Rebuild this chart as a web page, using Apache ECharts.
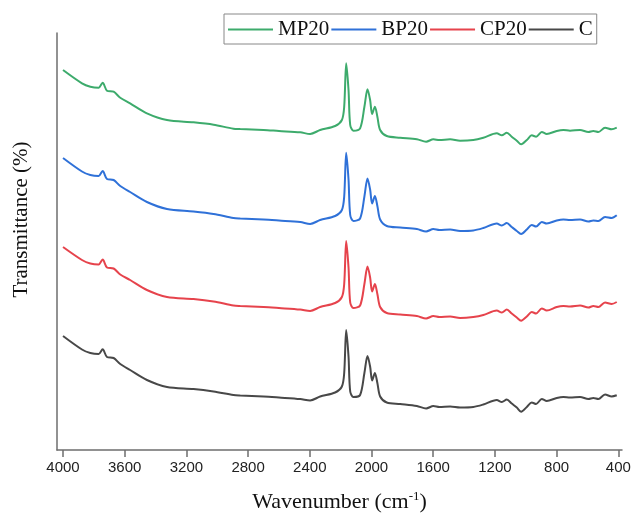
<!DOCTYPE html>
<html>
<head>
<meta charset="utf-8">
<script src="https://cdn.jsdelivr.net/npm/echarts@6/dist/echarts.min.js"></script>
<style>html,body{margin:0;padding:0;background:#fff;}#c{width:631px;height:517px;}</style>
</head>
<body>
<div id="c"></div>
<script>
var wavenumbers = [4000,3877,3823,3769,3743,3715,3672,3629,3565,3456,3326,3154,3024,2895,2851,2700,2600,2462,2398,2333,2236,2192,2177,2164,2149,2138,2117,2074,2046,2026,2009,1996,1978,1962,1944,1901,1814,1706,1646,1599,1560,1490,1426,1340,1275,1188,1155,1123,1091,1058,1030,993,961,933,896,864,799,756,713,648,594,562,529,486,443,410];
var mp20 = [380,366.7,363.3,362.3,367.3,359.3,358.3,352.3,346.7,336.7,330,327.7,325.3,321.3,321,320,319,317.7,316,320,324,330,343.3,386.7,360,325,319.3,321.7,343.3,360.7,350,336,343.3,333.3,320,314,312.3,310.7,308.3,310.7,310,310.7,309.3,310,312.3,316.7,314.7,317.3,313.3,309.3,305.7,310,314.7,313.3,318,316,319,320,319.3,320,318,319,318,322.3,320.7,322.3];
var bp20 = [292,278.5,275,274,279,271,270,264,258,248,241,238.5,236,232,231.5,230.5,229.5,228,226,230,234,240,253.5,297.3,270.5,235,229,231.5,253.5,271.5,260.5,246.5,254,244,230.5,224,222.5,221,218.5,221,220,220.5,219,219.5,222,226.5,224.5,227,223,219,216,220.5,225,223.5,228,226.5,229.5,230.5,230,230.5,228.5,229.5,229,233,232,234.7];
var cp20 = [203,190,186.5,185.5,190.5,182.5,181.5,175.5,170,160,153,151,148.5,144.5,144,143,142,140.5,139,143,147,153,166,209,182.5,147.5,142,144.5,166,183.5,172.5,158.5,166,156,143,137,135.5,134,131.5,134,133,133.5,132,133,135,139.5,137.5,140.5,136.5,132.5,129.3,133.5,138,136.5,141.5,139.5,143,144,143.5,144.5,142.5,144,143,147.5,146,148];
var cSeries = [114,100.5,97,96,100.7,93,92,86,80,70,63,61,58.5,55,54.5,53.5,52.5,51,49.5,53.5,57.5,63.5,77,120,93.5,58.5,53,55,77,94,83.5,69.5,77,67,53.5,47.5,46,44,41.5,44,43,43.5,42.5,43,45.5,50,48,50.5,46.5,42.5,38.3,43,47.5,46,51,49,52,53,52.5,53,51,52,51,55.5,53.5,54.7];
var tickValues = [4000,3600,3200,2800,2400,2000,1600,1200,800,400];
var seriesNames = ['MP20','BP20','CP20','C'];
var seriesColors = ['#3dab6c','#2f71d8','#e6434c','#484848'];
var seriesValues = [mp20, bp20, cp20, cSeries];

function pairs(vals){ return wavenumbers.map(function(w,i){ return [w, vals[i]]; }); }

var chart = echarts.init(document.getElementById('c'), null, {renderer:'canvas'});
chart.setOption({
  animation: false,
  backgroundColor: '#ffffff',
  legend: {
    data: seriesNames,
    left: 224, top: 14,
    padding: [5, 4, 4, 4],
    itemGap: 2,
    itemWidth: 45,
    itemHeight: 2,
    icon: 'rect',
    borderColor: '#888888',
    borderWidth: 1,
    textStyle: { fontFamily: 'Liberation Serif', fontSize: 21, color: '#111' }
  },
  grid: { left: 57, top: 33, width: 565, height: 417, containLabel: false, outerBoundsMode: 'none' },
  xAxis: {
    type: 'value', inverse: true, min: 376, max: 4039,
    name: 'Wavenumber (cm{sup|-1})',
    nameLocation: 'middle', nameGap: 40,
    nameTextStyle: {
      fontFamily: 'Liberation Serif', fontSize: 22, color: '#111',
      rich: { sup: { fontFamily: 'Liberation Serif', fontSize: 13, color: '#111', verticalAlign: 'top', padding: [0,0,11,0] } }
    },
    axisLine: { show: true, onZero: false, lineStyle: { color: '#6e6e6e', width: 1.5 } },
    axisTick: { show: true, length: 7, inside: false, customValues: tickValues, lineStyle: { color: '#6e6e6e', width: 1.5 } },
    axisLabel: { customValues: tickValues, formatter: function(v){ return String(v); }, fontFamily: 'Liberation Sans', fontSize: 15, color: '#222', margin: 10 },
    splitLine: { show: false }
  },
  yAxis: {
    type: 'value', min: 0, max: 417,
    name: 'Transmittance (%)', nameLocation: 'middle', nameGap: 25,
    nameTextStyle: { fontFamily: 'Liberation Serif', fontSize: 21, color: '#111', padding: [0, 0, 0, 44] },
    axisLine: { show: true, lineStyle: { color: '#6e6e6e', width: 1.5 } },
    axisTick: { show: false },
    axisLabel: { show: false },
    splitLine: { show: false }
  },
  series: seriesNames.map(function(n, k){
    return {
      name: n, type: 'line', data: pairs(seriesValues[k]),
      showSymbol: false, symbol: 'none', smooth: 0.3,
      lineStyle: { color: seriesColors[k], width: 2 },
      itemStyle: { color: seriesColors[k] }
    };
  })
});
</script>
</body>
</html>
